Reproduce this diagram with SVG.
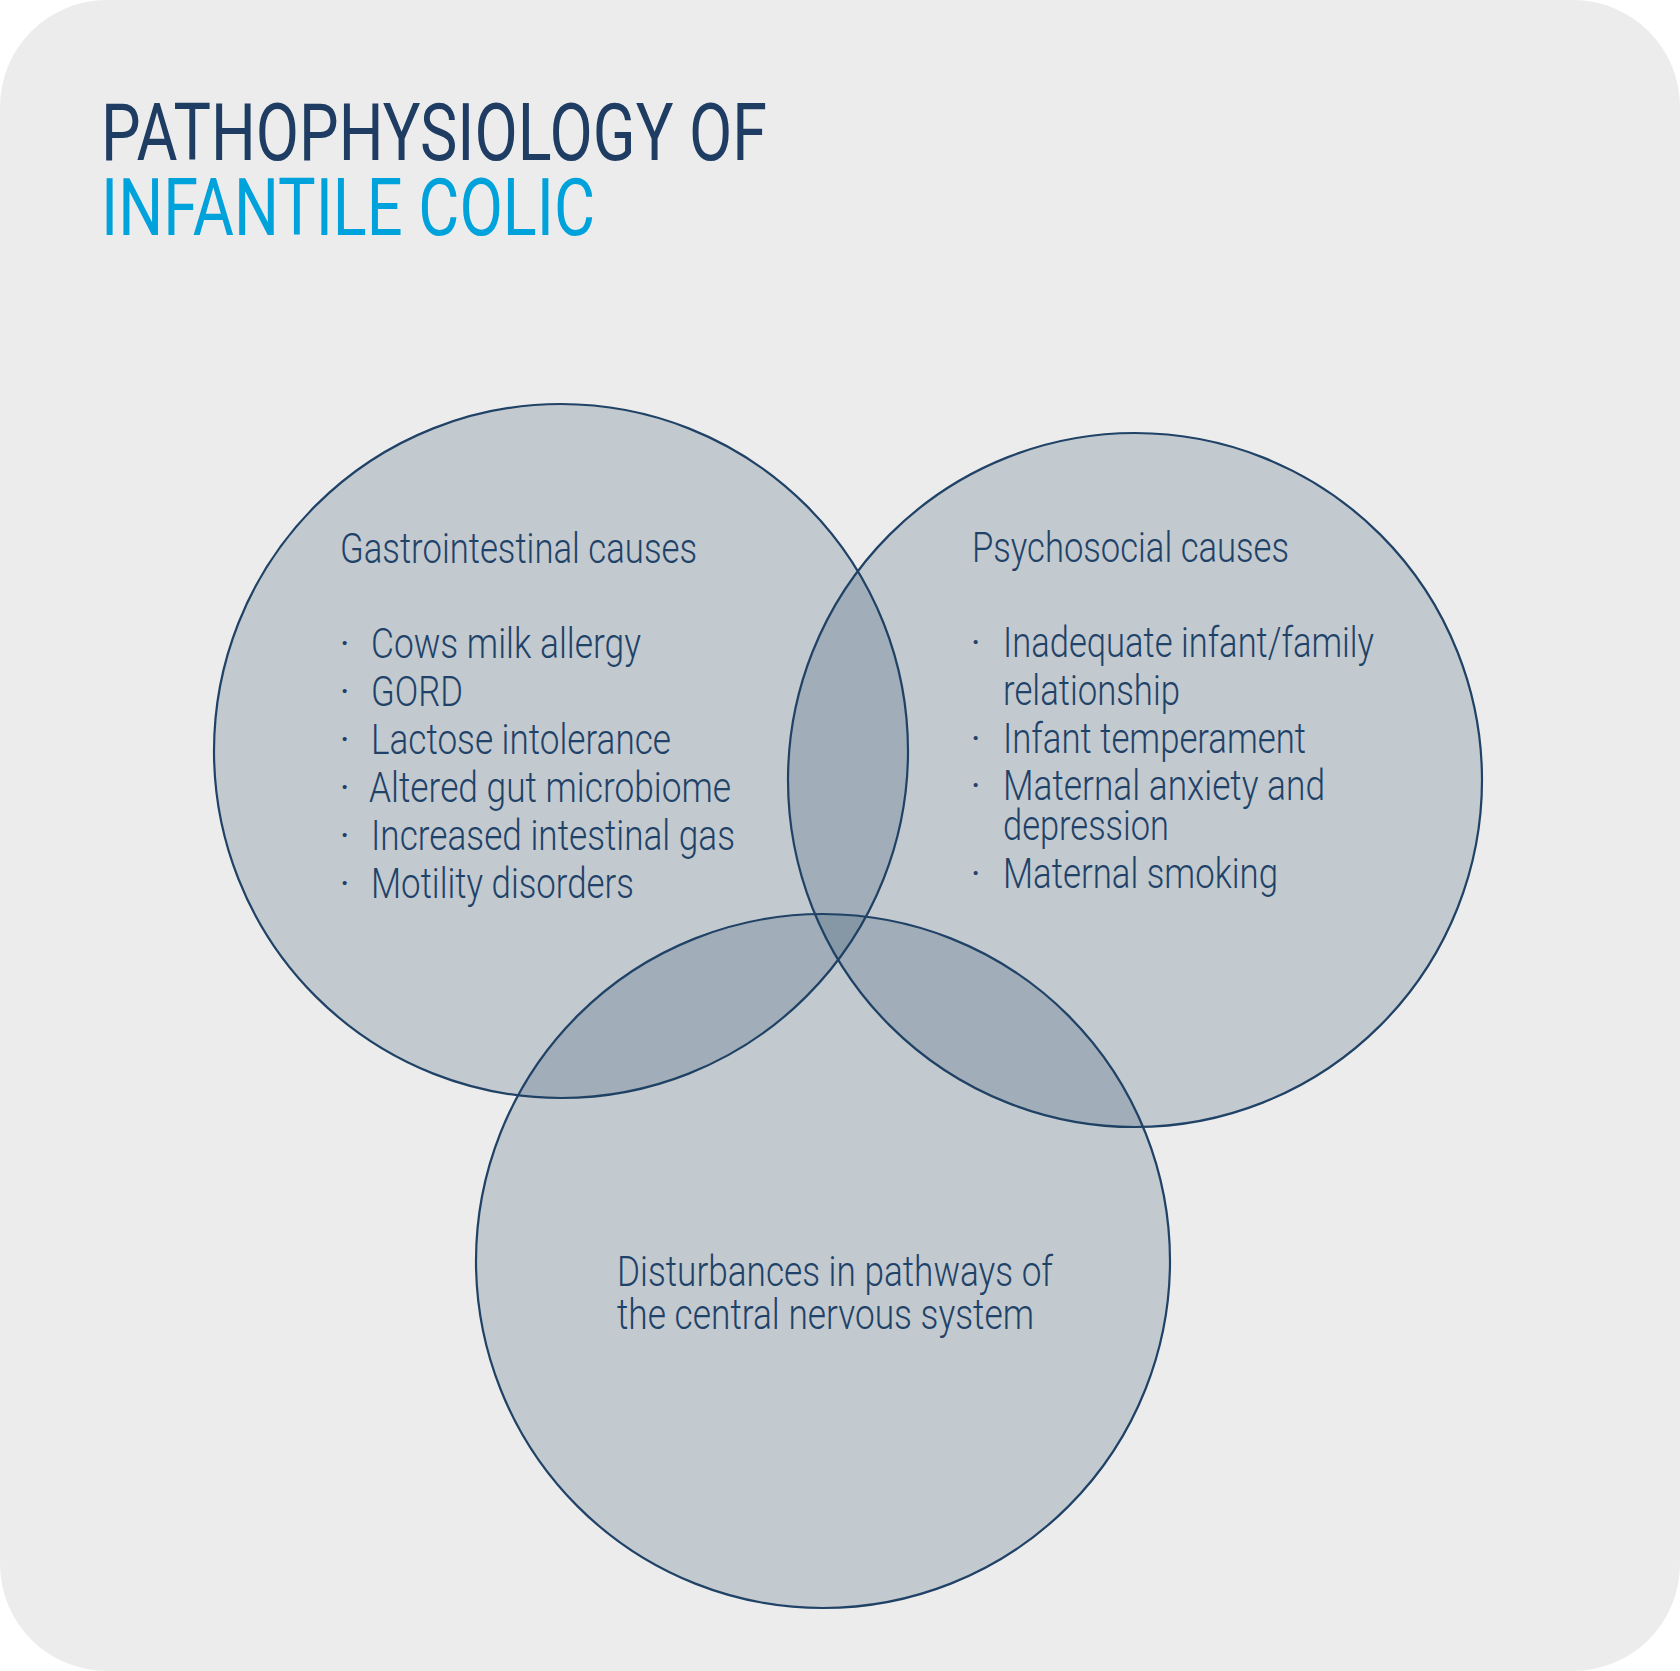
<svg xmlns="http://www.w3.org/2000/svg" width="1680" height="1671" viewBox="0 0 1680 1671">
  <style>
    .bg { fill: #ececec; }
    .venn { fill: #1f3f60; fill-opacity: 0.2; stroke: #1f4266; stroke-width: 2.2; }
    .title { font-family: Roboto, "Liberation Sans", sans-serif; font-size: 79px; font-weight: 400; }
    .t1 { fill: #1f3d63; }
    .t2 { fill: #00a2db; }
    .body { font-family: Roboto, "Liberation Sans", sans-serif; font-size: 43px; font-weight: 300; fill: #1f4268; }
    .dot { font-family: Roboto, "Liberation Sans", sans-serif; font-size: 36px; font-weight: 400; fill: #1f4268; }
  </style>
  <rect class="bg" x="0" y="0" width="1680" height="1671" rx="107" ry="107"/>

  <g id="title">
    <text class="title t1" x="101" y="160" textLength="666" lengthAdjust="spacingAndGlyphs">PATHOPHYSIOLOGY OF</text>
    <text class="title t2" x="101" y="235" textLength="494" lengthAdjust="spacingAndGlyphs">INFANTILE COLIC</text>
  </g>

  <g id="gastrointestinal">
    <circle class="venn" cx="561" cy="751" r="347"/>
    <text class="body" x="340" y="563" textLength="357" lengthAdjust="spacingAndGlyphs">Gastrointestinal causes</text>
    <g class="dot">
      <text x="340" y="656">·</text>
      <text x="340" y="704">·</text>
      <text x="340" y="752">·</text>
      <text x="340" y="800">·</text>
      <text x="340" y="848">·</text>
      <text x="340" y="896">·</text>
    </g>
    <text class="body" x="371" y="658" textLength="270" lengthAdjust="spacingAndGlyphs">Cows milk allergy</text>
    <text class="body" x="371" y="706" textLength="92" lengthAdjust="spacingAndGlyphs">GORD</text>
    <text class="body" x="371" y="754" textLength="300" lengthAdjust="spacingAndGlyphs">Lactose intolerance</text>
    <text class="body" x="369" y="802" textLength="362" lengthAdjust="spacingAndGlyphs">Altered gut microbiome</text>
    <text class="body" x="371" y="850" textLength="364" lengthAdjust="spacingAndGlyphs">Increased intestinal gas</text>
    <text class="body" x="371" y="898" textLength="263" lengthAdjust="spacingAndGlyphs">Motility disorders</text>
  </g>

  <g id="psychosocial">
    <circle class="venn" cx="1135" cy="780" r="347"/>
    <text class="body" x="972" y="562" textLength="317" lengthAdjust="spacingAndGlyphs">Psychosocial causes</text>
    <g class="dot">
      <text x="971" y="655">·</text>
      <text x="971" y="751">·</text>
      <text x="971" y="798">·</text>
      <text x="971" y="886">·</text>
    </g>
    <text class="body" x="1003" y="657" textLength="371" lengthAdjust="spacingAndGlyphs">Inadequate infant/family</text>
    <text class="body" x="1003" y="705" textLength="177" lengthAdjust="spacingAndGlyphs">relationship</text>
    <text class="body" x="1003" y="753" textLength="303" lengthAdjust="spacingAndGlyphs">Infant temperament</text>
    <text class="body" x="1003" y="800" textLength="322" lengthAdjust="spacingAndGlyphs">Maternal anxiety and</text>
    <text class="body" x="1003" y="840" textLength="166" lengthAdjust="spacingAndGlyphs">depression</text>
    <text class="body" x="1003" y="888" textLength="275" lengthAdjust="spacingAndGlyphs">Maternal smoking</text>
  </g>

  <g id="cns">
    <circle class="venn" cx="823" cy="1261" r="347"/>
    <text class="body" x="617" y="1286" textLength="436" lengthAdjust="spacingAndGlyphs">Disturbances in pathways of</text>
    <text class="body" x="617" y="1329" textLength="417" lengthAdjust="spacingAndGlyphs">the central nervous system</text>
  </g>

  <g id="connectors"></g>
</svg>
